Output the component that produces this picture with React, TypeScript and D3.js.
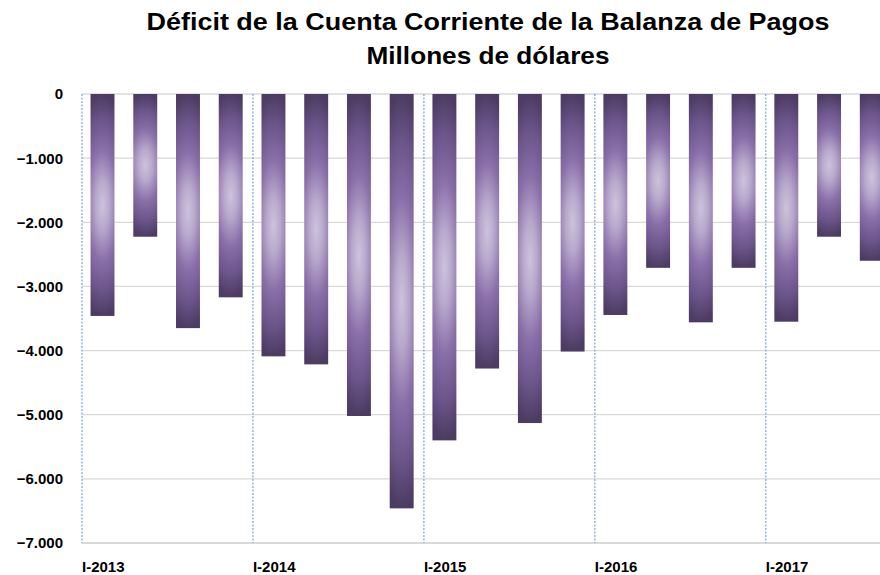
import React from "react";
import * as d3 from "d3";

const quarters: string[] = [
  "I-2013", "II-2013", "III-2013", "IV-2013",
  "I-2014", "II-2014", "III-2014", "IV-2014",
  "I-2015", "II-2015", "III-2015", "IV-2015",
  "I-2016", "II-2016", "III-2016", "IV-2016",
  "I-2017", "II-2017", "III-2017",
];
const deficit: number[] = [
  -3460, -2225, -3650, -3170,
  -4090, -4215, -5020, -6460,
  -5400, -4280, -5130, -4015,
  -3445, -2710, -3560, -2710,
  -3550, -2225, -2600,
];
const yTicks: number[] = [0, -1000, -2000, -3000, -4000, -5000, -6000, -7000];
const yearLabels: string[] = ["I-2013", "I-2014", "I-2015", "I-2016", "I-2017"];
const titleLines: string[] = [
  "Déficit de la Cuenta Corriente de la Balanza de Pagos",
  "Millones de dólares",
];

const W = 880;
const H = 575;
const left = 82;
const right = 892.3;
const top = 94;
const bottom = 543;
const FONT = "'Liberation Sans', Arial, sans-serif";

export default function App() {
  const x = d3.scaleBand<string>().domain(quarters).range([left, right]).paddingInner(0.44).paddingOuter(0.2);
  const y = d3.scaleLinear().domain([-7000, 0]).range([bottom, top]);
  const fmt = (v: number) => d3.format(",")(v).replace(/,/g, ".");
  const step = x.step();
  const boundaries = yearLabels.map((l) => (x(l) as number) - x.paddingOuter() * step + 0.0);
  const boundaryX = yearLabels.map((l) => left + quarters.indexOf(l) * step);

  return (
    <svg width={W} height={H} style={{ position: "absolute", left: 0, top: 0, background: "#fff" }} fontFamily={FONT}>
      <defs>
        <radialGradient id="barGrad" cx="0.5" cy="0.5" r="0.5" gradientUnits="objectBoundingBox"
          gradientTransform="translate(0.5 0.5) scale(2.6 1) translate(-0.5 -0.5)">
          <stop offset="0" stopColor="#cdc3dc" />
          <stop offset="0.22" stopColor="#b8a8cc" />
          <stop offset="0.5" stopColor="#8a6fa9" />
          <stop offset="0.78" stopColor="#6a5489" />
          <stop offset="1" stopColor="#4c3b62" />
        </radialGradient>
      </defs>
      <rect x={0} y={0} width={W} height={H} fill="#fff" />
      {titleLines.map((t, i) => (
        <text key={t} x={488} y={30 + i * 34} textAnchor="middle" fontWeight="bold" fontSize={24}
          textLength={i === 0 ? 683 : 243} lengthAdjust="spacingAndGlyphs" fill="#000">{t}</text>
      ))}
      {yTicks.map((t) => (
        <g key={t}>
          <line x1={left} x2={W} y1={y(t)} y2={y(t)} stroke="#d9d9d9" strokeWidth={t === -7000 ? 2 : 1.3} />
          <text x={63} y={y(t)} dy="0.36em" textAnchor="end" fontWeight="bold" fontSize={15} fill="#000">{fmt(t)}</text>
        </g>
      ))}
      {boundaryX.map((bx, i) => (
        <line key={"b" + i} x1={bx} x2={bx} y1={top} y2={bottom} stroke="#7aa3d8" strokeWidth={1.2} strokeDasharray="2 1.5" />
      ))}
      {quarters.map((q, i) => (
        <rect key={q} x={x(q)} y={y(0)} width={x.bandwidth()} height={y(deficit[i]) - y(0)} fill="url(#barGrad)" />
      ))}
      {yearLabels.map((l, i) => (
        <text key={l} x={boundaryX[i]} y={572} fontWeight="bold" fontSize={15} fill="#000">{l}</text>
      ))}
    </svg>
  );
}
